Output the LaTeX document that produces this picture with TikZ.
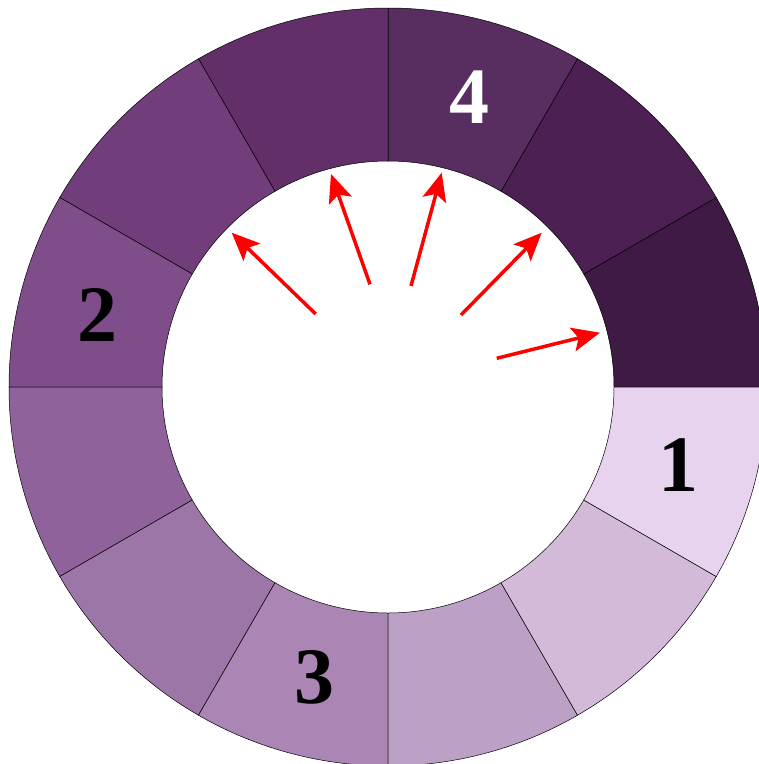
\documentclass[tikz,border=0pt]{standalone}
\usepackage{fontspec}
\setmainfont{Liberation Serif}
\usetikzlibrary{arrows.meta}
\definecolor{s0}{HTML}{3F1A44}
\definecolor{s1}{HTML}{4D2053}
\definecolor{s2}{HTML}{582D60}
\definecolor{s3}{HTML}{622F69}
\definecolor{s4}{HTML}{723D7B}
\definecolor{s5}{HTML}{804D8B}
\definecolor{s6}{HTML}{90629C}
\definecolor{s7}{HTML}{9C76A6}
\definecolor{s8}{HTML}{AB85B3}
\definecolor{s9}{HTML}{BDA0C6}
\definecolor{s10}{HTML}{D4BAD9}
\definecolor{s11}{HTML}{E8D3EE}
\tikzset{
  sector/.style={draw=black, line width=0.5pt},
  numlabel/.style={font=\fontsize{80}{80}\selectfont\bfseries, inner sep=0pt},
  redarrow/.style={draw=red, line width=3.5pt, -{Stealth[length=28pt,width=24pt,inset=6pt]}}
}
\begin{document}
\begin{tikzpicture}[x=1pt,y=1pt]
\useasboundingbox (0,0) rectangle (759,-764);
\clip (0,0) rectangle (759,-764);
\begin{scope}[shift={(388pt,-387pt)}]
\foreach \a/\c in {0/s0,30/s1,60/s2,90/s3,120/s4,150/s5,180/s6,210/s7,240/s8,270/s9,300/s10,330/s11}{
  \pgfmathsetmacro{\b}{\a+30}
  \draw[sector, fill=\c] (\a:379pt) arc[start angle=\a, end angle=\b, radius=379pt]
    -- (\b:226pt) arc[start angle=\b, end angle=\a, radius=226pt] -- cycle;
}
\node[numlabel, text=black] (l1) at (-15:301pt) {1};
\node[numlabel, text=black] (l2) at (166:299pt) {2};
\node[numlabel, text=black] (l3) at (255.8:300pt) {3};
\node[numlabel, text=white] (l4) at (74.3:301pt) {4};
\coordinate (a1s) at (108.7pt,28.7pt);
\coordinate (a1e) at (212pt,54.3pt);
\coordinate (a2s) at (73pt,72pt);
\coordinate (a2e) at (153.7pt,154.3pt);
\coordinate (a3s) at (23pt,101pt);
\coordinate (a3e) at (53.7pt,214.3pt);
\coordinate (a4s) at (-18pt,102.7pt);
\coordinate (a4e) at (-57pt,213pt);
\coordinate (a5s) at (-72.3pt,73pt);
\coordinate (a5e) at (-156.3pt,154.3pt);
\draw[redarrow] (a1s) -- (a1e);
\draw[redarrow] (a2s) -- (a2e);
\draw[redarrow] (a3s) -- (a3e);
\draw[redarrow] (a4s) -- (a4e);
\draw[redarrow] (a5s) -- (a5e);
\end{scope}
\end{tikzpicture}
\end{document}
